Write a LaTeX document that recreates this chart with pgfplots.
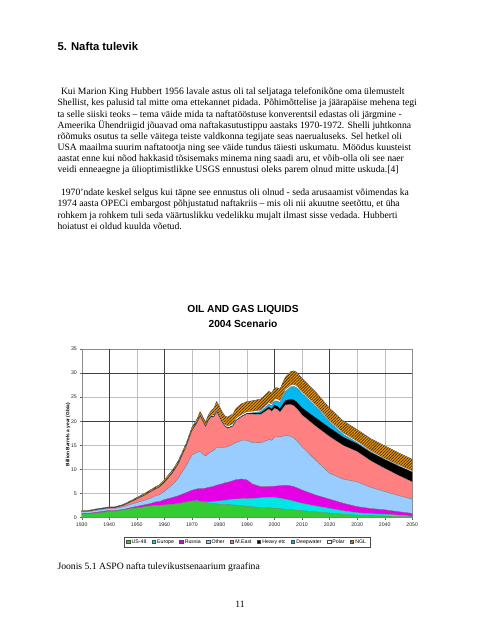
\documentclass[border=0pt]{standalone}
\usepackage{fontspec}
\setmainfont{Liberation Serif}
\newfontfamily\arialfont{Liberation Sans}
\usepackage{pgfplots}
\pgfplotsset{compat=1.18}
\usepackage{pgfplotstable}
\usetikzlibrary{patterns,patterns.meta}

\definecolor{cUS}{RGB}{51,204,51}
\definecolor{cEU}{RGB}{0,230,230}
\definecolor{cRU}{RGB}{230,0,230}
\definecolor{cOT}{RGB}{153,204,255}
\definecolor{cME}{RGB}{255,128,128}
\definecolor{cDW}{RGB}{0,185,240}
\definecolor{cNG}{RGB}{230,150,20}
\definecolor{cNGline}{RGB}{80,45,0}

\pgfplotstableread{
yr us eu ru ot me hv dw po ngl
1930 0.75 0 0.10 0.35 0.05 0.05 0 0 0.15
1932 0.70 0 0.12 0.35 0.05 0.05 0 0 0.15
1935 0.90 0 0.15 0.40 0.10 0.05 0 0 0.15
1938 1.10 0 0.20 0.40 0.12 0.05 0 0 0.15
1940 1.25 0 0.20 0.40 0.15 0.05 0 0 0.15
1942 1.30 0 0.15 0.40 0.15 0.05 0 0 0.15
1945 1.55 0 0.10 0.55 0.25 0.05 0 0 0.20
1948 1.85 0 0.20 0.70 0.50 0.05 0 0 0.25
1950 2.00 0 0.30 0.80 0.70 0.05 0 0 0.30
1953 2.25 0 0.40 0.95 1.05 0.05 0 0 0.35
1955 2.40 0 0.50 1.10 1.30 0.05 0 0 0.40
1957 2.55 0 0.70 1.35 1.35 0.05 0 0 0.45
1958 2.45 0 0.80 1.40 1.55 0.05 0 0 0.45
1960 2.60 0 1.10 1.70 1.80 0.10 0 0 0.50
1963 2.75 0 1.40 2.70 2.40 0.10 0 0 0.55
1965 2.90 0 1.60 3.60 2.90 0.10 0 0 0.60
1968 3.20 0.02 1.95 5.60 4.00 0.10 0 0 0.62
1970 3.40 0.05 2.20 7.30 5.00 0.10 0 0 0.65
1972 3.40 0.10 2.45 7.60 6.20 0.10 0 0 0.75
1973 3.30 0.10 2.60 7.70 7.30 0.10 0 0.05 0.85
1974 3.20 0.10 2.70 7.10 6.80 0.10 0 0.05 0.85
1975 3.10 0.15 2.85 6.70 6.00 0.10 0 0.10 0.85
1976 3.00 0.25 3.00 7.00 6.90 0.10 0 0.15 0.90
1977 2.90 0.35 3.10 7.30 7.20 0.10 0 0.25 1.00
1978 2.85 0.45 3.20 7.50 6.90 0.10 0 0.30 1.40
1979 2.80 0.60 3.30 7.80 7.40 0.10 0 0.30 1.80
1980 2.75 0.70 3.40 7.70 6.30 0.10 0 0.30 1.80
1981 2.70 0.80 3.50 7.50 5.20 0.10 0 0.30 1.80
1982 2.70 0.90 3.60 7.40 4.30 0.10 0 0.30 1.80
1983 2.65 1.00 3.65 7.40 3.80 0.10 0 0.35 1.90
1985 2.60 1.25 3.80 7.60 3.70 0.10 0 0.40 2.10
1986 2.55 1.30 4.00 7.70 4.50 0.10 0 0.40 2.10
1988 2.45 1.45 4.10 8.00 4.90 0.10 0 0.40 2.20
1990 2.30 1.60 3.90 8.20 5.50 0.10 0 0.35 2.10
1992 2.20 1.75 3.00 8.60 5.90 0.20 0.10 0.30 2.20
1995 2.10 2.00 2.30 9.10 5.90 0.30 0.30 0.30 2.30
1998 2.00 2.20 2.25 9.70 6.40 0.40 0.60 0.35 2.30
1999 1.95 2.25 2.25 9.60 6.00 0.45 0.70 0.35 2.30
2000 1.90 2.30 2.30 10.20 6.00 0.60 0.90 0.40 2.30
2001 1.85 2.25 2.45 10.20 5.70 0.65 1.10 0.40 2.35
2002 1.80 2.20 2.60 10.10 5.20 0.70 1.30 0.40 2.40
2004 1.70 2.10 2.90 10.30 6.40 0.90 1.90 0.40 2.60
2006 1.60 1.95 3.00 10.30 6.60 1.10 2.60 0.40 2.80
2007 1.55 1.85 3.00 10.10 6.70 1.20 2.80 0.40 2.85
2008 1.50 1.75 2.95 9.80 6.70 1.30 2.95 0.40 2.85
2010 1.40 1.55 2.75 9.00 6.60 1.45 3.00 0.35 2.80
2015 1.15 1.25 2.25 7.20 7.10 1.70 2.40 0.30 2.70
2020 0.90 1.00 1.90 5.40 7.60 1.80 1.20 0.30 2.60
2025 0.65 0.75 1.55 5.00 7.00 1.70 0.60 0.30 2.50
2030 0.45 0.55 1.25 5.15 6.30 1.60 0.25 0.30 2.40
2035 0.35 0.45 1.05 4.40 5.50 1.70 0.15 0.25 2.50
2040 0.30 0.40 0.90 3.80 4.80 1.80 0.10 0.20 2.60
2045 0.22 0.28 0.70 3.35 4.20 1.90 0.07 0.22 2.50
2050 0.15 0.15 0.55 2.95 3.60 2.00 0.05 0.25 2.40
}\oildata

\begin{document}
\begin{tikzpicture}
\path[fill=white] (0bp,0bp) rectangle (612bp,-792bp);
% heading
\node[anchor=base west, inner sep=0, font=\arialfont\bfseries\fontsize{14}{16}\selectfont] at (71bp,-63.1bp) {5. Nafta tulevik};
% paragraph 1
\begin{scope}[every node/.style={anchor=base west, inner sep=0, font=\fontsize{12}{14}\selectfont}]
\node at (75.3bp,-117.3bp) {Kui Marion King Hubbert 1956 lavale astus oli tal seljataga telefonikõne oma ülemustelt};
\node at (71bp,-131.1bp) {Shellist, kes palusid tal mitte oma ettekannet pidada. Põhimõttelise ja jäärapäise mehena tegi};
\node at (71bp,-144.9bp) {ta selle siiski teoks – tema väide mida ta naftatööstuse konverentsil edastas oli järgmine -};
\node at (71bp,-158.7bp) {Ameerika Ühendriigid jõuavad oma naftakasutustippu aastaks 1970-1972. Shelli juhtkonna};
\node at (71bp,-172.5bp) {rõõmuks osutus ta selle väitega teiste valdkonna tegijate seas naerualuseks. Sel hetkel oli};
\node at (71bp,-186.3bp) {USA maailma suurim naftatootja ning see väide tundus täiesti uskumatu. Möödus kuusteist};
\node at (71bp,-200.1bp) {aastat enne kui nõod hakkasid tõsisemaks minema ning saadi aru, et võib-olla oli see naer};
\node at (71bp,-213.9bp) {veidi enneaegne ja ülioptimistlikke USGS ennustusi oleks parem olnud mitte uskuda.[4]};
% paragraph 2
\node at (75.3bp,-241.9bp) {1970'ndate keskel selgus kui täpne see ennustus oli olnud - seda arusaamist võimendas ka};
\node at (71bp,-255.9bp) {1974 aasta OPECi embargost põhjustatud naftakriis – mis oli nii akuutne seetõttu, et üha};
\node at (71bp,-269.9bp) {rohkem ja rohkem tuli seda väärtuslikku vedelikku mujalt ilmast sisse vedada. Hubberti};
\node at (71bp,-283.9bp) {hoiatust ei oldud kuulda võetud.};
% caption and page number
\node at (71bp,-704.8bp) {Joonis 5.1 ASPO nafta tulevikustsenaarium graafina};
\end{scope}
\node[anchor=base, inner sep=0, font=\fontsize{12}{14}\selectfont] at (297bp,-751.4bp) {11};
% chart title
\node[anchor=base, inner sep=0, font=\arialfont\bfseries\fontsize{12.7}{14}\selectfont] at (300.7bp,-386.1bp) {OIL AND GAS LIQUIDS};
\node[anchor=base, inner sep=0, font=\arialfont\bfseries\fontsize{12.7}{14}\selectfont] at (300.7bp,-404.7bp) {2004 Scenario};
% y label
\node[rotate=90, inner sep=0, font=\arialfont\bfseries\fontsize{6}{7}\selectfont] at (84.2bp,-538bp) {Billion Barrels a year (Gb/a)};

\begin{axis}[
  at={(101.1bp,-640.4bp)}, anchor=south west,
  scale only axis, width=409bp, height=208.5bp,
  xmin=1930, xmax=2050, ymin=0, ymax=35,
  xtick={1930,1940,...,2050}, ytick={0,5,...,35},
  stack plots=y,
  grid=major, major grid style={black!25, line width=0.4pt},
  extra x ticks={1940,1960,2000,2020}, extra x tick labels={},
  extra x tick style={grid=major, major grid style={black!75, line width=0.5pt}},
  extra y ticks={20,30}, extra y tick labels={},
  extra y tick style={grid=major, major grid style={black!75, line width=0.5pt}},
  axis line style={black!45},
  tick style={black!60, line width=0.4pt}, tick align=outside, major tick length=2.5bp,
  xtick pos=left, ytick pos=left,
  tick label style={font=\arialfont\fontsize{6.5}{7}\selectfont, text=black!85},
  /pgf/number format/assume math mode=true, /pgf/number format/1000 sep={},
  legend columns=9,
  legend image code/.code={\draw[#1, line width=0.3pt, draw=black!70] (0bp,-2.2bp) rectangle (4.4bp,2.2bp);},
  legend style={at={(0.5,0)}, anchor=north, yshift=-23.8bp, draw=black!70, line width=0.4pt,
    font=\arialfont\fontsize{6.5}{7}\selectfont, inner xsep=2.5bp, inner ysep=1bp,
    /tikz/every even column/.append style={column sep=4.6bp}},
]
\addplot[fill=cUS, draw=black!55, line width=0.3pt] table[x=yr, y=us]{\oildata} \closedcycle;
\addplot[fill=cEU, draw=black!55, line width=0.3pt] table[x=yr, y=eu]{\oildata} \closedcycle;
\addplot[fill=cRU, draw=black!55, line width=0.3pt] table[x=yr, y=ru]{\oildata} \closedcycle;
\addplot[fill=cOT, draw=black!55, line width=0.3pt] table[x=yr, y=ot]{\oildata} \closedcycle;
\addplot[fill=cME, draw=black!55, line width=0.3pt] table[x=yr, y=me]{\oildata} \closedcycle;
\addplot[fill=black, draw=black, line width=0.3pt] table[x=yr, y=hv]{\oildata} \closedcycle;
\addplot[fill=cDW, draw=black!55, line width=0.3pt] table[x=yr, y=dw]{\oildata} \closedcycle;
\addplot[fill=white, draw=black!55, line width=0.3pt] table[x=yr, y=po]{\oildata} \closedcycle;
\addplot[fill=cNG, draw=black!60, line width=0.3pt, postaction={pattern={Lines[angle=45, distance=2.6bp, line width=0.9bp]}, pattern color=cNGline}] table[x=yr, y=ngl]{\oildata} \closedcycle;
\legend{US-48,Europe,Russia,Other,M.East,Heavy etc,Deepwater,Polar,NGL}
\node[font=\arialfont\fontsize{6.2}{7}\selectfont] at (axis cs:1990,18.7) {M.East};
\node[font=\arialfont\fontsize{6.2}{7}\selectfont] at (axis cs:1990,11.6) {Other};
\node[font=\arialfont\fontsize{6.2}{7}\selectfont] at (axis cs:1990,5.4) {Russia};
\node[font=\arialfont\fontsize{6.2}{7}\selectfont] at (axis cs:1990,2.8) {Europe};
\node[font=\arialfont\fontsize{6.2}{7}\selectfont] at (axis cs:1990,1.1) {US-48};
\end{axis}
\end{tikzpicture}
\end{document}
